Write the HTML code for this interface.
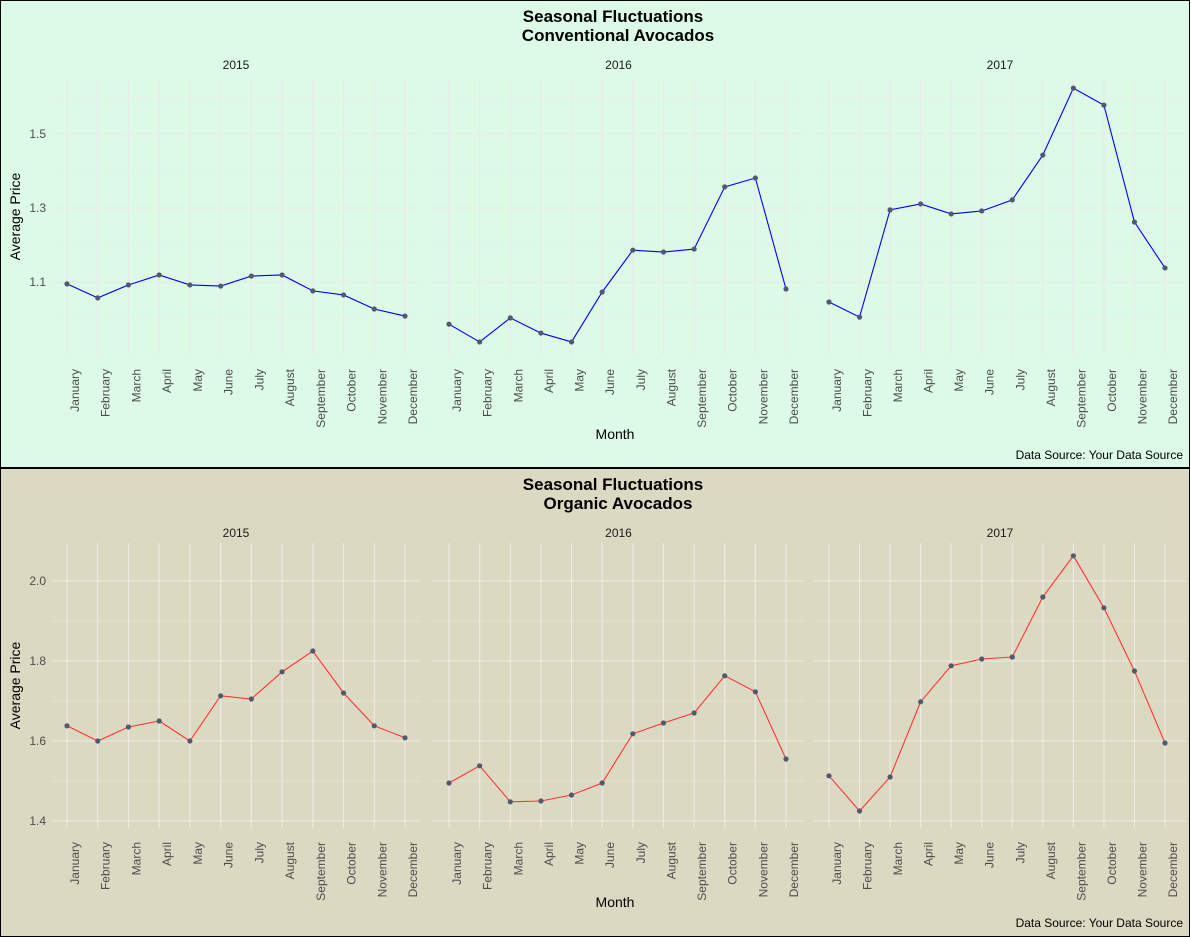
<!DOCTYPE html>
<html><head><meta charset="utf-8"><style>
html,body{margin:0;padding:0;background:#fff}
svg{display:block;font-family:"Liberation Sans",Arial,sans-serif}
</style></head><body>
<svg id="chart" width="1191" height="937" viewBox="0 0 1191 937" xmlns="http://www.w3.org/2000/svg"></svg>
<script>
const months = ["January","February","March","April","May","June","July","August","September","October","November","December"];
const years = ["2015","2016","2017"];
const conv2015 = [1.095,1.057,1.092,1.119,1.092,1.089,1.116,1.119,1.076,1.065,1.027,1.008];
const conv2016 = [0.986,0.938,1.003,0.962,0.938,1.073,1.186,1.181,1.189,1.357,1.381,1.081];
const conv2017 = [1.046,1.005,1.295,1.311,1.284,1.292,1.322,1.443,1.624,1.578,1.262,1.138];
const org2015 = [1.638,1.600,1.635,1.650,1.600,1.713,1.705,1.773,1.825,1.720,1.638,1.608];
const org2016 = [1.495,1.538,1.448,1.450,1.465,1.495,1.618,1.645,1.670,1.763,1.723,1.555];
const org2017 = [1.513,1.425,1.510,1.698,1.788,1.805,1.810,1.960,2.063,1.933,1.775,1.595];
const convTicks = [1.1,1.3,1.5];
const convMinor = [1.0,1.2,1.4,1.6];
const orgTicks = [1.4,1.6,1.8,2.0];
const orgMinor = [1.5,1.7,1.9];

const NS="http://www.w3.org/2000/svg";
const svg=document.getElementById('chart');
function mk(tag,attrs,parent,text){const e=document.createElementNS(NS,tag);for(const k in attrs)e.setAttribute(k,attrs[k]);if(text!==undefined)e.textContent=text;(parent||svg).appendChild(e);return e;}

const facetX=[[52,420],[432,805],[814,1186]];
function firstX(i){return [67,449,829][i];}
function stepX(i){return [(405-67)/11,(786-449)/11,(1165-829)/11][i];}

function drawPanel(cfg){
  const g=mk('g',{},svg);
  
  
  const bg=mk('rect',{x:cfg.x0+0.5,y:cfg.y0+0.5,width:1190-1,height:cfg.h-1,fill:cfg.bg,stroke:'#000','stroke-width':1},g);
  
  
  const yScale=v=>cfg.yRef+(cfg.vRef-v)*cfg.pxPer;
  const t=mk('text',{x:613,y:cfg.y0+22,'text-anchor':'middle','font-size':17,'font-weight':'bold',fill:'#000'},g,'Seasonal Fluctuations');
  
  const t2=mk('text',{x:618,y:cfg.y0+41,'text-anchor':'middle','font-size':17,'font-weight':'bold',fill:'#000'},g,cfg.subtitle);
  
  years.forEach((yr,i)=>{
    const [a,b]=facetX[i];
    const fl=mk('text',{x:(a+b)/2,y:cfg.y0+69,'text-anchor':'middle','font-size':12,fill:'#1a1a1a'},g,yr);
    
    cfg.minor.forEach(v=>{mk('line',{x1:a,x2:b,y1:yScale(v),y2:yScale(v),stroke:cfg.grid,'stroke-width':0.6},g);});
    cfg.ticks.forEach(v=>{mk('line',{x1:a,x2:b,y1:yScale(v),y2:yScale(v),stroke:cfg.grid,'stroke-width':1.1},g);});
    months.forEach((m,j)=>{
      const x=firstX(i)+j*stepX(i);
      mk('line',{x1:x,x2:x,y1:cfg.top,y2:cfg.bottom,stroke:cfg.grid,'stroke-width':1.1},g);
      const lbl=mk('text',{x:0,y:0,transform:`translate(${x+12},${cfg.bottom+14}) rotate(-90)`,'text-anchor':'end','font-size':12,fill:'#4d4d4d'},g,m);
      
    });
    const data=cfg.series[i];
    const pts=data.map((v,j)=>[firstX(i)+j*stepX(i),yScale(v)]);
    const pl=mk('polyline',{points:pts.map(p=>p.join(',')).join(' '),fill:'none',stroke:cfg.line,'stroke-width':1.1},g);
    
    pts.forEach(p=>{
      const c=mk('circle',{cx:p[0],cy:p[1],r:2.6,fill:'#4f5a6e'},g);
      
    });
  });
  cfg.ticks.forEach(v=>{
    const tl=mk('text',{x:46,y:yScale(v)+4,'text-anchor':'end','font-size':12,fill:'#4d4d4d'},g,v.toFixed(1));
    
  });
  const yt=mk('text',{x:0,y:0,transform:`translate(20,${(cfg.top+cfg.bottom)/2}) rotate(-90)`,'text-anchor':'middle','font-size':14,fill:'#000'},g,'Average Price');
  
  const xt=mk('text',{x:615,y:cfg.y0+439,'text-anchor':'middle','font-size':14,fill:'#000'},g,'Month');
  
  const cap=mk('text',{x:1183,y:cfg.y0+459,'text-anchor':'end','font-size':12,fill:'#000'},g,'Data Source: Your Data Source');
  
}
drawPanel({name:'conventional-panel',subtitle:'Conventional Avocados',x0:0,y0:0,h:468,bg:'#dcfae6',grid:'#ebe8eb',line:'#0000ff',
  yRef:282,vRef:1.1,pxPer:370,top:78,bottom:355,ticks:convTicks,minor:convMinor,series:[conv2015,conv2016,conv2017]});
drawPanel({name:'organic-panel',subtitle:'Organic Avocados',x0:0,y0:468,h:469,bg:'#dcd9c3',grid:'#eeebe3',line:'#ff3333',
  yRef:821,vRef:1.4,pxPer:400,top:543,bottom:828,ticks:orgTicks,minor:orgMinor,series:[org2015,org2016,org2017]});
</script>
</body></html>
